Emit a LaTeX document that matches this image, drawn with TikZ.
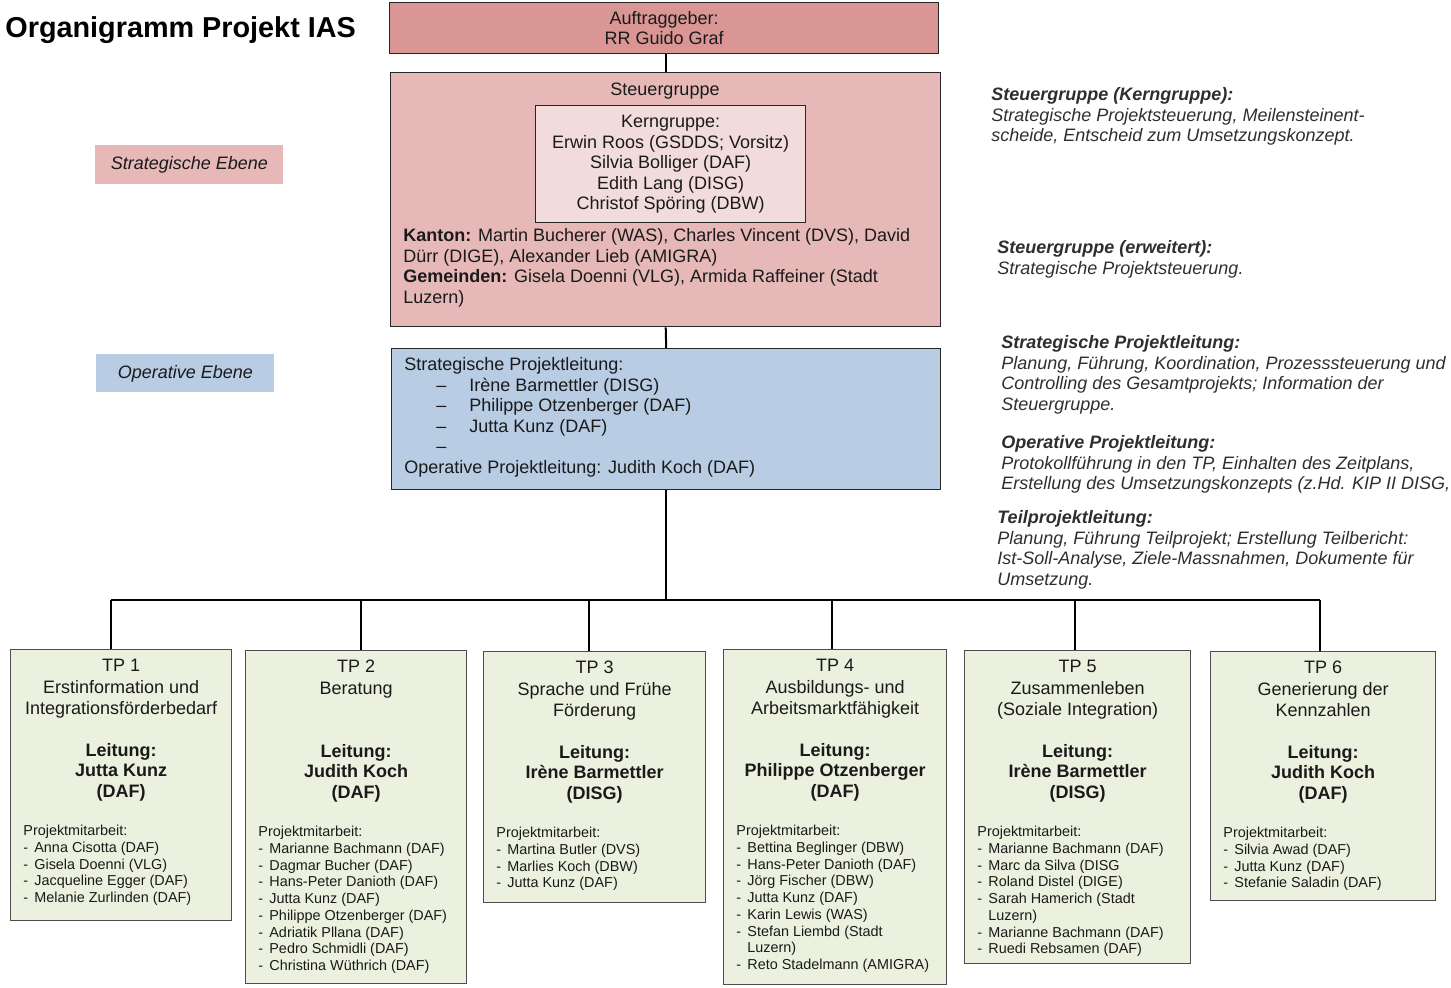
\documentclass[tikz,border=0pt]{standalone}
\usepackage{fontspec}
\setmainfont{Liberation Sans}
\usepackage{xcolor}
\definecolor{agrose}{HTML}{DA9694}
\definecolor{sgrose}{HTML}{E6B8B7}
\definecolor{kernrose}{HTML}{F2DCDB}
\definecolor{oplblue}{HTML}{B8CCE4}
\definecolor{tpgreen}{HTML}{EBF1DE}
\definecolor{ink}{HTML}{1A1A1A}
\definecolor{frame}{HTML}{262626}
\definecolor{tpline}{HTML}{4D4D4D}
\definecolor{note}{HTML}{2E2E2E}
\newcommand{\boxfont}{\fontsize{9}{10.25}\selectfont}
\newcommand{\listfont}{\fontsize{7.2}{8.35}\selectfont}
\newcommand{\mitem}[1]{\makebox[5.5pt][l]{-}#1}
\newcommand{\mcont}[1]{\hspace*{5.5pt}#1}
\newcommand{\splitem}[1]{\hspace*{16pt}\makebox[16.5pt][l]{–}#1}
\tikzset{
  orgbox/.style={draw=frame,line width=0.7pt,anchor=north west,inner sep=0pt,align=center,font=\boxfont,text=ink},
  level/.style={fill=#1,anchor=north west,inner sep=0pt,font=\boxfont\itshape,text=ink},
  txt/.style={inner sep=0pt,font=\boxfont,text=ink},
  note/.style={inner sep=0pt,anchor=north west,align=left,font=\boxfont\itshape,text=note},
  tpframe/.style={draw=tpline,fill=tpgreen,line width=0.7pt,anchor=north west,inner sep=0pt},
  tptitle/.style={txt,anchor=north,align=center,font=\fontsize{9}{10.75}\selectfont},
  tplead/.style={txt,anchor=north,align=center,font=\boxfont\bfseries},
  tplist/.style={inner sep=0pt,anchor=north west,align=left,font=\listfont,text=ink},
  conn/.style={draw=black,line width=1pt},
}
% one Teilprojekt: id, x, y, width, height, title, leitung, team
\newcommand{\tpbox}[8]{%
  \node[tpframe,minimum width=#4,minimum height=#5] (tp#1) at (#2,#3) {};
  \node[tptitle] (tp#1title) at ([yshift=-5pt]tp#1.north) {#6};
  \node[tplead] (tp#1lead) at ([yshift=-47pt]tp#1.north) {Leitung:\\#7};
  \node[tplist] (tp#1team) at ([xshift=6.5pt,yshift=-88pt]tp#1.north west) {Projektmitarbeit:\\#8};
}

\begin{document}
\begin{tikzpicture}[x=0.5pt,y=-0.5pt]
  \useasboundingbox (0,0) rectangle (1451,987);
  % title and levels
  \node[anchor=north west,inner sep=0pt,font=\fontsize{14.4}{16}\selectfont\bfseries] (title) at (5,16) {Organigramm Projekt IAS};
  \node[level=sgrose,minimum width=94pt,minimum height=19.5pt] (strat) at (95,145) {Strategische Ebene};
  \node[level=oplblue,minimum width=89pt,minimum height=19pt] (oper) at (96,354) {Operative Ebene};
  % Auftraggeber, Steuergruppe, Projektleitung
  \node[orgbox,fill=agrose,minimum width=274.5pt,minimum height=25.5pt] (ag) at (389,2) {Auftraggeber:\\RR Guido Graf};
  \node[orgbox,fill=sgrose,minimum width=275pt,minimum height=127pt] (sg) at (390,72) {};
  \node[txt,anchor=north] (sgtitle) at (665,82.5) {Steuergruppe};
  \node[orgbox,fill=kernrose,minimum width=135pt,minimum height=58.5pt] (kern) at (535,105) {Kerngruppe:\\Erwin Roos (GSDDS; Vorsitz)\\Silvia Bolliger (DAF)\\Edith Lang (DISG)\\Christof Spöring (DBW)};
  \node[txt,anchor=north west,align=left] (sgmembers) at (403,228.5) {\textbf{Kanton:} Martin Bucherer (WAS), Charles Vincent (DVS), David\\Dürr (DIGE), Alexander Lieb (AMIGRA)\\\textbf{Gemeinden:} Gisela Doenni (VLG), Armida Raffeiner (Stadt\\Luzern)};
  \node[orgbox,fill=oplblue,minimum width=274.5pt,minimum height=70.5pt] (spl) at (391,348) {};
  \node[txt,anchor=north west,align=left] (splmembers) at (404,357.5) {Strategische Projektleitung:\\\splitem{Irène Barmettler (DISG)}\\\splitem{Philippe Otzenberger (DAF)}\\\splitem{Jutta Kunz (DAF)}\\\splitem{}\\Operative Projektleitung: Judith Koch (DAF)};
  % notes on the right
  \node[note] (nkern) at (991,87.5) {\textbf{Steuergruppe (Kerngruppe):}\\Strategische Projektsteuerung, Meilensteinent-\\scheide, Entscheid zum Umsetzungskonzept.};
  \node[note] (nerw) at (997,240.5) {\textbf{Steuergruppe (erweitert):}\\Strategische Projektsteuerung.};
  \node[note] (nspl) at (1001,335.5) {\textbf{Strategische Projektleitung:}\\Planung, Führung, Koordination, Prozesssteuerung und\\Controlling des Gesamtprojekts; Information der\\Steuergruppe.};
  \node[note] (nopl) at (1001,435.5) {\textbf{Operative Projektleitung:}\\Protokollführung in den TP, Einhalten des Zeitplans,\\Erstellung des Umsetzungskonzepts (z.Hd. KIP II DISG,};
  \node[note] (ntpl) at (997,510.5) {\textbf{Teilprojektleitung:}\\Planung, Führung Teilprojekt; Erstellung Teilbericht:\\Ist-Soll-Analyse, Ziele-Massnahmen, Dokumente für\\Umsetzung.};
  % Teilprojekte
  \tpbox{1}{10}{649}{110.5pt}{135.5pt}{TP 1\\Erstinformation und\\Integrationsförderbedarf}{Jutta Kunz\\(DAF)}%
    {\mitem{Anna Cisotta (DAF)}\\\mitem{Gisela Doenni (VLG)}\\\mitem{Jacqueline Egger (DAF)}\\\mitem{Melanie Zurlinden (DAF)}}
  \tpbox{2}{245}{650}{110.5pt}{166.5pt}{TP 2\\Beratung}{Judith Koch\\(DAF)}%
    {\mitem{Marianne Bachmann (DAF)}\\\mitem{Dagmar Bucher (DAF)}\\\mitem{Hans-Peter Danioth (DAF)}\\\mitem{Jutta Kunz (DAF)}\\\mitem{Philippe Otzenberger (DAF)}\\\mitem{Adriatik Pllana (DAF)}\\\mitem{Pedro Schmidli (DAF)}\\\mitem{Christina Wüthrich (DAF)}}
  \tpbox{3}{483}{651}{111pt}{125.5pt}{TP 3\\Sprache und Frühe\\Förderung}{Irène Barmettler\\(DISG)}%
    {\mitem{Martina Butler (DVS)}\\\mitem{Marlies Koch (DBW)}\\\mitem{Jutta Kunz (DAF)}}
  \tpbox{4}{723}{649}{111.5pt}{167.5pt}{TP 4\\Ausbildungs- und\\Arbeitsmarktfähigkeit}{Philippe Otzenberger\\(DAF)}%
    {\mitem{Bettina Beglinger (DBW)}\\\mitem{Hans-Peter Danioth (DAF)}\\\mitem{Jörg Fischer (DBW)}\\\mitem{Jutta Kunz (DAF)}\\\mitem{Karin Lewis (WAS)}\\\mitem{Stefan Liembd (Stadt}\\\mcont{Luzern)}\\\mitem{Reto Stadelmann (AMIGRA)}}
  \tpbox{5}{964}{650}{113pt}{156.5pt}{TP 5\\Zusammenleben\\(Soziale Integration)}{Irène Barmettler\\(DISG)}%
    {\mitem{Marianne Bachmann (DAF)}\\\mitem{Marc da Silva (DISG}\\\mitem{Roland Distel (DIGE)}\\\mitem{Sarah Hamerich (Stadt}\\\mcont{Luzern)}\\\mitem{Marianne Bachmann (DAF)}\\\mitem{Ruedi Rebsamen (DAF)}}
  \tpbox{6}{1210}{651}{112.5pt}{124.5pt}{TP 6\\Generierung der\\Kennzahlen}{Judith Koch\\(DAF)}%
    {\mitem{Silvia Awad (DAF)}\\\mitem{Jutta Kunz (DAF)}\\\mitem{Stefanie Saladin (DAF)}}
  % connectors
  \draw[conn] (ag.south -| sg.north) -- (sg.north);
  \draw[conn] (sg.south) -- (spl.north);
  \foreach \i/\x in {1/111,2/361,3/589,4/832,5/1075,6/1320}
    \coordinate (b\i) at (\x,600);
  \draw[conn] (spl.south) -- (spl.south |- b1);
  \draw[conn] (b1) -- (b6);
  \foreach \i in {1,...,6}
    \draw[conn] (b\i) -- (b\i |- tp\i.north);
\end{tikzpicture}
\end{document}
